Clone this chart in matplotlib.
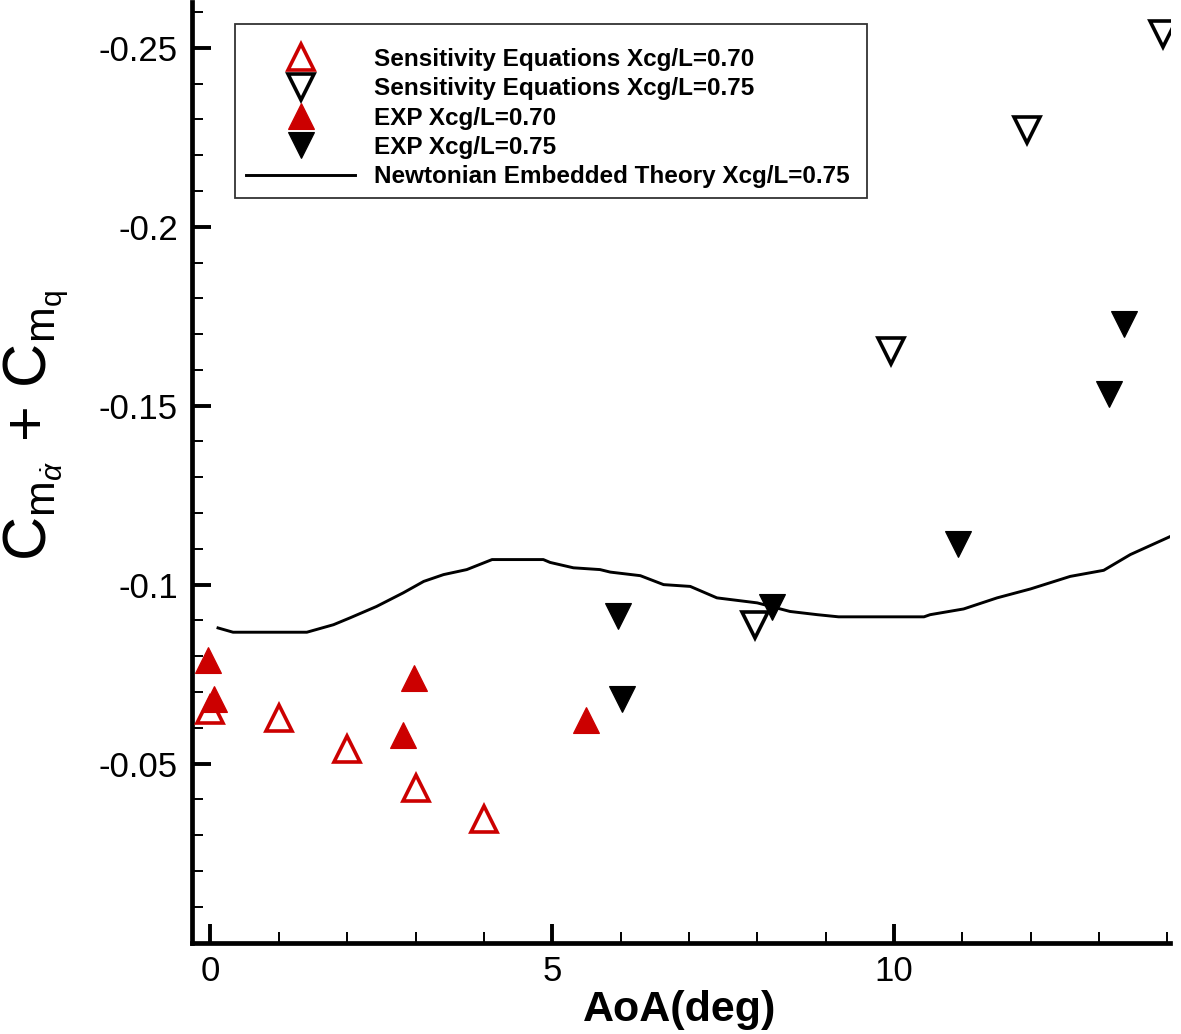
import matplotlib
matplotlib.use('Agg')
import matplotlib.pyplot as plt
from matplotlib.patches import Rectangle
from matplotlib.lines import Line2D
from matplotlib.ticker import MultipleLocator, FixedLocator

plt.rcParams['font.family'] = ['Liberation Sans', 'DejaVu Sans']
plt.rcParams['mathtext.fontset'] = 'custom'
plt.rcParams['mathtext.rm'] = 'Liberation Sans'
plt.rcParams['mathtext.it'] = 'Liberation Sans:italic'
plt.rcParams['mathtext.bf'] = 'Liberation Sans:bold'

# ---- data ----
se70_aoa = [0.0, 1.0, 2.0, 3.0, 4.0]
se70_cm = [-0.065, -0.0626, -0.054, -0.0433, -0.0346]

se75_aoa = [7.97, 9.96, 11.95, 13.94]
se75_cm = [-0.0888, -0.1654, -0.2270, -0.2539]

exp70_aoa = [-0.03, 0.05, 2.81, 2.98, 5.49]
exp70_cm = [-0.0789, -0.0681, -0.058, -0.0738, -0.0622]

exp75_aoa = [5.96, 6.02, 8.22, 10.94, 13.15, 13.36]
exp75_cm = [-0.0911, -0.0681, -0.0938, -0.1114, -0.1534, -0.1728]

newt_aoa = [0.11, 0.33, 1.41, 1.80, 2.04, 2.43, 2.82, 3.12, 3.41, 3.75, 4.12,
            4.87, 4.97, 5.31, 5.70, 5.85, 6.29, 6.63, 7.02, 7.41, 8.00, 8.48,
            8.88, 9.19, 10.44, 10.53, 11.02, 11.51, 12.00, 12.58, 13.07, 13.46, 14.05]
newt_cm = [-0.0879, -0.0867, -0.0867, -0.0888, -0.0907, -0.0939, -0.0977, -0.1009,
           -0.1028, -0.1042, -0.1070, -0.1070, -0.1062, -0.1047, -0.1042, -0.1035,
           -0.1025, -0.1000, -0.0995, -0.0963, -0.0949, -0.0925, -0.0916, -0.0910,
           -0.0910, -0.0916, -0.0932, -0.0963, -0.0988, -0.1023, -0.1040, -0.1084, -0.1135]

labels = ['Sensitivity Equations Xcg/L=0.70',
          'Sensitivity Equations Xcg/L=0.75',
          'EXP Xcg/L=0.70',
          'EXP Xcg/L=0.75',
          'Newtonian Embedded Theory Xcg/L=0.75']

xticks = [0, 5, 10]
xticklabels = ['0', '5', '10']
yticks = [-0.25, -0.2, -0.15, -0.1, -0.05]
yticklabels = ['-0.25', '-0.2', '-0.15', '-0.1', '-0.05']

RED = '#cc0000'
W, H = 1181, 1034

fig = plt.figure(figsize=(W / 100, H / 100), dpi=100)
ax = fig.add_axes([191.7 / W, (H - 942.5) / H, (1170 - 191.7) / W, (942.5 - 2) / H])

ax.plot(newt_aoa, newt_cm, color='black', lw=2.1, zorder=2)
ms = 19
mew = 2.6
ax.plot(se70_aoa, se70_cm, ls='none', marker='^', ms=ms, mfc='none', mec=RED, mew=mew, zorder=3)
ax.plot(se75_aoa, se75_cm, ls='none', marker='v', ms=ms, mfc='none', mec='black', mew=mew, zorder=3)
ax.plot(exp70_aoa, exp70_cm, ls='none', marker='^', ms=ms, mfc=RED, mec=RED, mew=0.8, zorder=4)
ax.plot(exp75_aoa, exp75_cm, ls='none', marker='v', ms=ms, mfc='black', mec='black', mew=0.8, zorder=4)

ax.set_xlim(-0.275, 14.04)
ax.set_ylim(0, -0.2628)

ax.xaxis.set_major_locator(FixedLocator(xticks))
ax.set_xticklabels(xticklabels)
ax.xaxis.set_minor_locator(MultipleLocator(1))
ax.yaxis.set_major_locator(FixedLocator(yticks))
ax.set_yticklabels(yticklabels)
ax.yaxis.set_minor_locator(MultipleLocator(0.01))

for s in ['top', 'right']:
    ax.spines[s].set_visible(False)
for s in ['left', 'bottom']:
    ax.spines[s].set_linewidth(3.4)

ax.tick_params(which='major', direction='in', length=14, width=2.8, labelsize=25)
ax.tick_params(which='minor', direction='in', length=8, width=1.4)
ax.tick_params(axis='y', which='major', pad=10)
ax.tick_params(axis='x', which='major', pad=9)

# axis labels
fig.text(680 / W, 1 - 1010 / H, 'AoA(deg)', ha='center', va='center',
         fontsize=31, fontweight='bold')
fig.text(1 / W, 1 - 425 / H,
         r'$\mathrm{C}_{\mathrm{m}_{\dot{\alpha}}}\,+\,\mathrm{C}_{\mathrm{m}_{\mathrm{q}}}$',
         rotation=90, ha='left', va='center', fontsize=44)

# legend
handles = [
    Line2D([], [], ls='none', marker='^', ms=ms, mfc='none', mec=RED, mew=mew),
    Line2D([], [], ls='none', marker='v', ms=ms, mfc='none', mec='black', mew=mew),
    Line2D([], [], ls='none', marker='^', ms=ms, mfc=RED, mec=RED, mew=0.8),
    Line2D([], [], ls='none', marker='v', ms=ms, mfc='black', mec='black', mew=0.8),
    Line2D([], [], color='black', lw=2.1),
]
leg = ax.legend(handles, labels, loc='upper left',
                bbox_to_anchor=(246 / W, 1 - 48 / H), bbox_transform=fig.transFigure,
                frameon=False, borderpad=0, borderaxespad=0, numpoints=1,
                handlelength=4.5, handletextpad=0.78, labelspacing=0.26,
                prop={'family': 'Liberation Sans', 'weight': 'bold', 'size': 17.5})
fig.patches.append(Rectangle((235 / W, 1 - 198 / H), 632 / W, 174 / H,
                             transform=fig.transFigure, fill=False,
                             edgecolor='#333333', lw=1.3, zorder=5))

fig.savefig('out.png', dpi=100)
